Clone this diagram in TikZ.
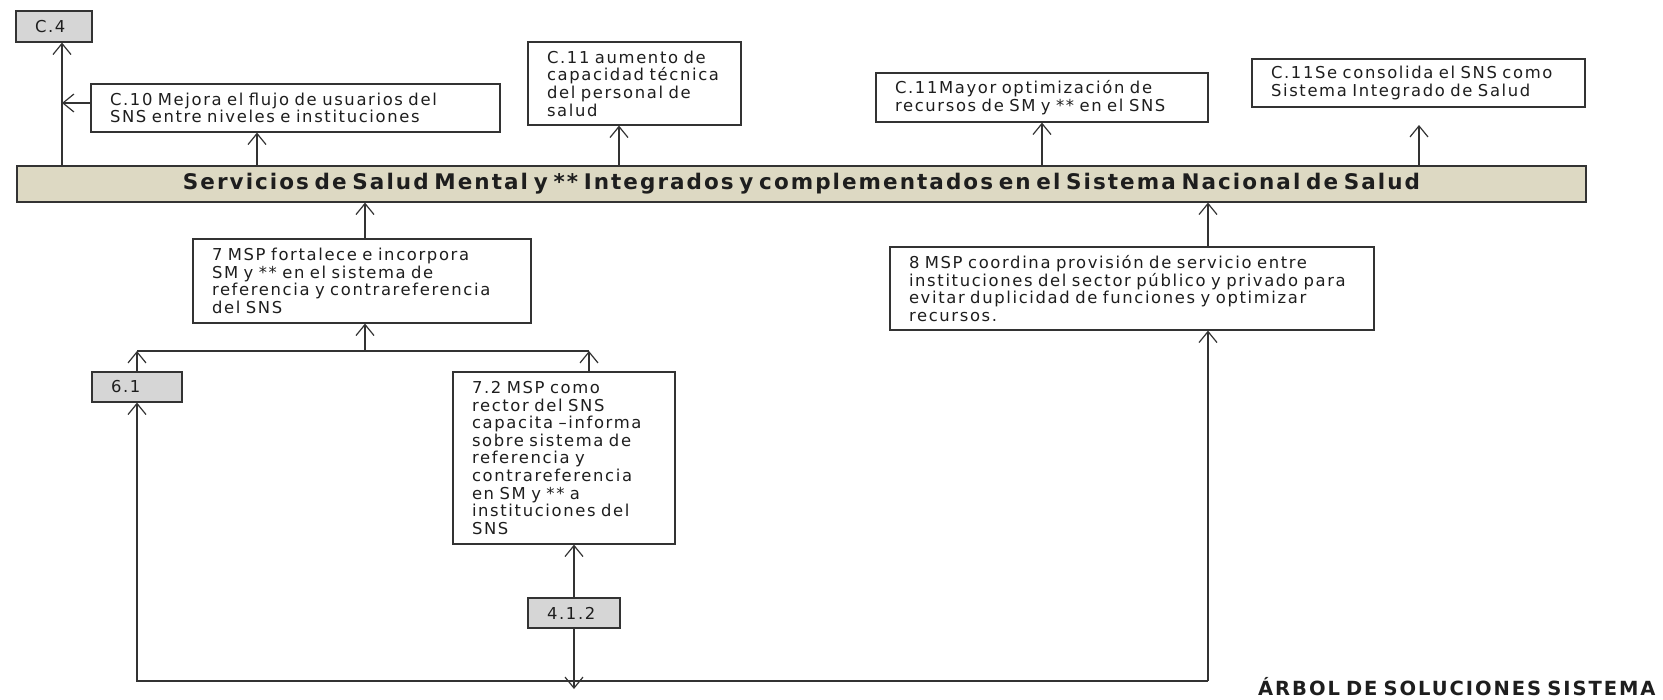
\documentclass[tikz,border=0pt]{standalone}
\usepackage{fontspec}
\setmainfont{DejaVu Sans}
\newfontfamily\boxfont[LetterSpace=10,WordSpace=1.5]{DejaVu Sans}
\newfontfamily\headfont[LetterSpace=9.5,WordSpace=0.6]{DejaVu Sans}
\newfontfamily\titlefont[LetterSpace=10,WordSpace=0.7]{DejaVu Sans}
\usetikzlibrary{arrows.meta}
\definecolor{linecol}{HTML}{333333}
\definecolor{grayfill}{HTML}{D6D6D6}
\definecolor{mainfill}{HTML}{DDD9C3}
\definecolor{textcol}{HTML}{1E1E1E}
\begin{document}
\begin{tikzpicture}[x=1pt,y=-1pt,
  >={Straight Barb[length=11pt,width=18pt,line width=1.2pt]},
  conn/.style={draw=linecol,line width=1.3pt},
  box/.style={draw=linecol,fill=white,line width=1.2pt,inner xsep=19pt,inner ysep=0pt,
    align=left,text=textcol,font=\boxfont\fontsize{16.4}{17.6}\selectfont},
  graybox/.style={box,fill=grayfill},
  mainbox/.style={draw=linecol,fill=mainfill,line width=1.2pt,inner sep=0pt,text=textcol,
    font=\headfont\bfseries\fontsize{21.5}{24}\selectfont},
  titletext/.style={inner sep=0pt,text=textcol,font=\titlefont\bfseries\fontsize{19.5}{22}\selectfont}]
\useasboundingbox (0,0) rectangle (1663,699);
\fill[white] (0,0) rectangle (1663,699);

% top row
\node[graybox,minimum width=76pt,minimum height=31pt,text width=38pt] (c4) at (54,26.5) {C.4};
\node[box,minimum width=409pt,minimum height=48pt,text width=371pt] (c10) at (295.5,108)
  {C.10 Mejora el flujo de usuarios del\\SNS entre niveles e instituciones};
\node[box,minimum width=213pt,minimum height=83pt,text width=175pt] (c11a) at (634.5,83.5)
  {C.11 aumento de\\capacidad técnica\\del personal de\\salud};
\node[box,minimum width=332pt,minimum height=49pt,text width=294pt] (c11m) at (1042,97.5)
  {C.11Mayor optimización de\\recursos de SM y ** en el SNS};
\node[box,minimum width=333pt,minimum height=48pt,text width=295pt] (c11s) at (1418.5,83)
  {C.11Se consolida el SNS como\\Sistema Integrado de Salud};

% main
\node[mainbox,minimum width=1569pt,minimum height=36pt] (main) at (801.5,184)
  {Servicios de Salud Mental y ** Integrados y complementados en el Sistema Nacional de Salud};

% lower
\node[box,minimum width=338pt,minimum height=84pt,text width=300pt] (n7) at (362,281)
  {7 MSP fortalece e incorpora\\SM y ** en el sistema de\\referencia y contrareferencia\\del SNS};
\node[graybox,minimum width=90pt,minimum height=30pt,text width=52pt] (n61) at (137,387) {6.1};
\node[box,minimum width=222pt,minimum height=172pt,text width=184pt] (n72) at (564,458)
  {7.2 MSP como\\rector del SNS\\capacita –informa\\sobre sistema de\\referencia y\\contrareferencia\\en SM y ** a\\instituciones del\\SNS};
\node[graybox,minimum width=92pt,minimum height=30pt,text width=54pt] (n412) at (574,613) {4.1.2};
\node[box,minimum width=484pt,minimum height=83pt,text width=446pt] (n8) at (1132,288.5)
  {8 MSP coordina provisión de servicio entre\\instituciones del sector público y privado para\\evitar duplicidad de funciones y optimizar\\recursos.};
\node[titletext,anchor=west] (title) at (1258,687) {ÁRBOL DE SOLUCIONES SISTEMA};

% coordinates
\coordinate (xa) at (62,0);
\coordinate (xb) at (257,0);
\coordinate (xc) at (619,0);
\coordinate (xf) at (365,0);
\coordinate (xe) at (1419,0);
\coordinate (c11stip) at (1419,125);
\coordinate (ja) at (137,351);
\coordinate (jb) at (589,351);
\coordinate (jc) at (365,351);
\coordinate (bd) at (574,689);
\coordinate (ba) at (137,681);
\coordinate (bb) at (1208,681);

% connectors up top
\draw[conn,->] (main.north -| xa) -- (c4.south -| xa);
\draw[conn,->] ([yshift=5pt]c10.west) -- ([yshift=5pt]c10.west -| xa);
\draw[conn,->] (main.north -| xb) -- (c10.south -| xb);
\draw[conn,->] (main.north -| xc) -- (c11a.south -| xc);
\draw[conn,->] (main.north -| c11m) -- (c11m.south);
\draw[conn,->] (main.north -| xe) -- (c11stip);

% connectors below
\draw[conn,->] (n7.north -| xf) -- (main.south -| xf);
\draw[conn] (ja) -- (jb);
\draw[conn,->] (jc) -- (n7.south -| jc);
\draw[conn,->] (n61.north) -- (ja);
\draw[conn,->] (n72.north -| jb) -- (jb);
\draw[conn,->] (n412.north) -- (n412.north |- n72.south);
\draw[conn,->] (n412.south) -- (bd);
\draw[conn,->] (bb) -- (ba) -- (n61.south);
\draw[conn,->] (bb) -- (n8.south -| bb);
\draw[conn,->] (n8.north -| bb) -- (main.south -| bb);
\end{tikzpicture}
\end{document}
